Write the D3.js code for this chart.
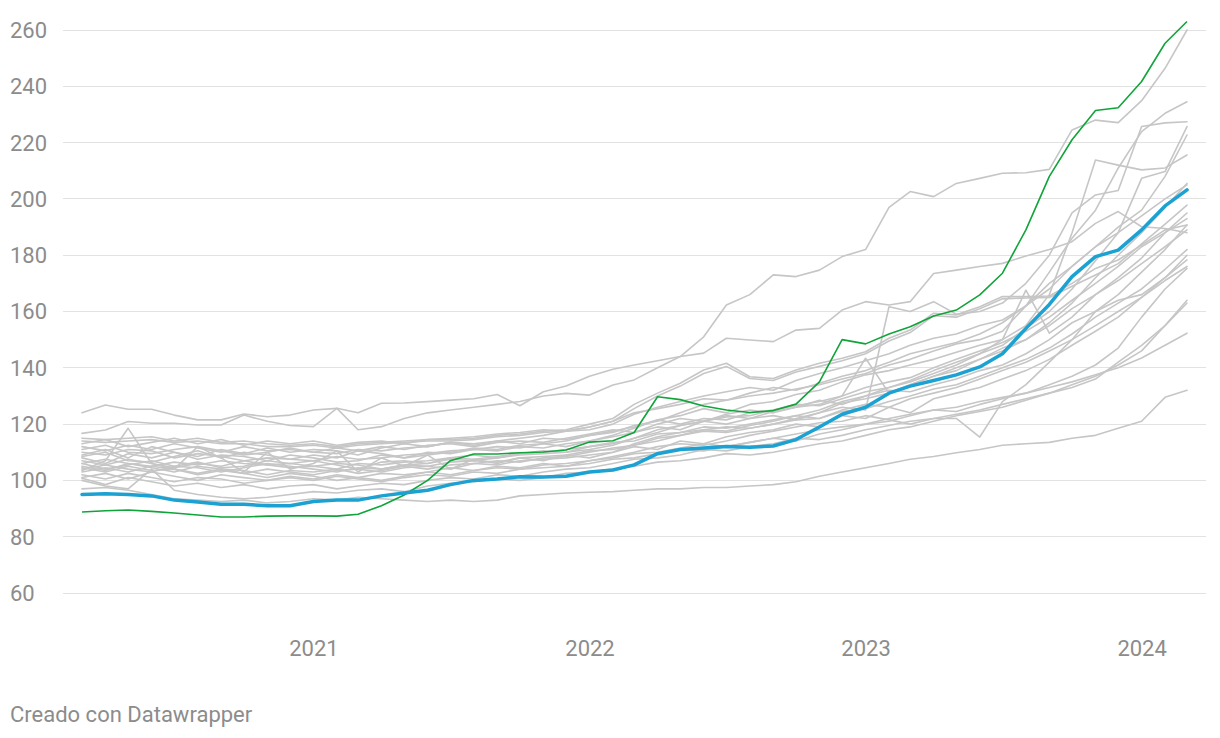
<!DOCTYPE html>
<html>
<head>
<meta charset="utf-8">
<script src="https://cdn.jsdelivr.net/npm/d3@7"></script>
<style>
  html, body { margin: 0; padding: 0; background: #ffffff; }
  svg { display: block; }
  text { font-family: Roboto, "Noto Sans", sans-serif; }
</style>
</head>
<body>
<svg id="chart" width="1220" height="738"></svg>
<script>
// ---- categories: monthly observations, Mar 2020 .. Mar 2024 ----
const startMonth = new Date(2020, 2, 1);
const endMonth = new Date(2024, 3, 1);
const months = d3.timeMonth.range(startMonth, endMonth); // 49 months

// ---- tick labels ----
const yTicks = [60, 80, 100, 120, 140, 160, 180, 200, 220, 240, 260];
const xTickLabels = ["2021", "2022", "2023", "2024"];
const footerText = "Creado con Datawrapper";

// ---- highlighted series ----
const blueSeries = [
  95, 95.3, 95, 94.5, 93, 92.3, 91.5, 91.5, 91, 91,
  92.5, 93, 93, 94.5, 95.5, 96.5, 98.5, 100, 100.5, 101.3,
  101.2, 101.5, 103, 103.7, 105.5, 109.5, 111, 111.5, 112, 111.8,
  112.2, 114.5, 119, 123.5, 126, 131, 133.5, 135.5, 137.5, 140.3,
  145, 154, 162.5, 172.4, 179.5, 181.8, 189, 197.5, 203.2
];
const greenSeries = [
  88.8, 89.2, 89.5, 89, 88.4, 87.7, 87, 87, 87.3, 87.4,
  87.4, 87.3, 88, 91, 94.8, 100, 107, 109.4, 109.4, 109.8,
  110.1, 110.8, 113.6, 114.1, 117, 129.7, 128.7, 126.4, 125, 124.1,
  124.8, 127.1, 135, 150, 148.5, 152, 154.6, 158.4, 160.5, 165.9,
  173.6, 189, 208, 221, 231.4, 232.4, 241.7, 255.3, 263
];

// ---- background (grey) series ----
const grey01 = [
  124, 126.8, 125.3, 125.3, 123.2, 121.5, 121.5, 123.6, 122.6, 123.2,
  125, 125.6, 124, 127.4, 127.5, 128, 128.5, 129, 130.5, 126.5,
  131.5, 133.5, 137, 139.5, 141, 142.5, 144, 151, 162.3, 166,
  173, 172.4, 174.7, 179.5, 182, 197, 202.6, 200.8, 205.5, 207.3,
  209.1, 209.3, 210.5, 224.5, 228, 227.1, 234.9, 246.4, 260
];
const grey02 = [
  116.7, 117.9, 120.9, 120.3, 120.3, 119.7, 119.7, 123.2, 121, 119.5,
  119.1, 125.6, 118, 119.1, 122, 124, 125, 126, 127, 128,
  130, 130.9, 130.3, 133.9, 135.7, 140, 144, 145.2, 150.5, 149.9,
  149.3, 153.4, 154, 160.5, 163.5, 162.3, 163.5, 173.5, 174.7, 176,
  177.1, 179.7, 182, 184.8, 191.3, 195.5, 190.1, 189.5, 188
];
const grey03 = [
  115, 114.5, 115, 115.5, 114, 115, 113.5, 114, 113, 112.5,
  113, 112, 113, 113.5, 114, 114.5, 114.5, 115, 116, 116.5,
  117.5, 118, 120, 122, 127, 131, 134.5, 139.2, 141.6, 136.8,
  136.2, 139.2, 141.6, 143.4, 145.7, 150.5, 153.4, 159.4, 158.8, 161.7,
  165.3, 165.3, 165.5, 170, 175.3, 178.3, 183.6, 189, 190.7
];
const grey04 = [
  114, 113.5, 114, 114.5, 113.5, 114, 113, 113, 112, 112,
  112.5, 111.5, 112.5, 113, 113.5, 114, 114, 114.5, 115.5, 116,
  117, 117.5, 119, 121, 125.5, 130, 133.5, 138, 140.5, 136.2,
  135.5, 138.5, 140.5, 142.5, 145, 149.5, 152.5, 158.5, 158, 161,
  164.5, 164.8, 165, 169, 173, 177, 184, 191, 197.8
];
const grey05 = [
  110, 109, 111, 110.5, 108, 109.5, 108.5, 107, 108, 107.5,
  107, 108.5, 107.5, 108, 109, 109.5, 110.5, 111, 112, 111.5,
  113, 114, 116, 117, 119.5, 121, 124, 127, 128.5, 130,
  131, 132.5, 134, 136, 138, 141, 143, 146, 148.5, 150,
  153, 162, 174, 186, 196, 210.9, 223.9, 230.4, 234.5
];
const grey06 = [
  106, 107.5, 106, 105, 106.5, 105.5, 107, 106, 105.5, 106,
  105, 106, 105.5, 104, 105.5, 106, 107.5, 107, 108, 109,
  109.5, 110, 111, 112.5, 115, 117, 119.5, 121, 120, 122,
  123, 121.5, 124, 126, 125, 161.7, 160, 163.5, 159, 160,
  163, 170, 180, 195, 201.4, 203, 225.7, 227, 227.4
];
const grey07 = [
  108, 106, 109.5, 108, 110, 107.5, 109, 108.5, 107, 109,
  108, 106.5, 107, 109, 108, 110, 109.5, 111, 110.5, 112,
  111.5, 113, 114, 116, 118.5, 121.5, 123, 125.5, 124, 127,
  128, 130.5, 132, 135, 137.5, 139, 141, 143, 145.5, 148,
  150, 155, 166, 188, 213.8, 212, 210.3, 211, 215.6
];
const grey08 = [
  103, 104.5, 103, 105, 104, 102.5, 104, 103.5, 102, 103.5,
  103, 104, 102.5, 103.5, 105, 104, 105.5, 106, 105.5, 107,
  107.5, 108, 109, 110, 113, 115.5, 117, 118, 117.5, 119.5,
  121, 123, 125, 128, 130, 133, 135.5, 139, 142, 145,
  148, 154, 160, 168, 178, 188, 207.3, 209.7, 225.7
];
const grey09 = [
  112, 110.5, 112.5, 111, 113, 111.5, 110, 112, 110.5, 111,
  110, 109.5, 111, 110.5, 111.5, 112, 113.5, 113, 114, 115,
  116, 117.5, 118, 120, 123.5, 126, 128, 130, 131.5, 133,
  132, 135.5, 138, 140, 142.5, 145, 148, 150.5, 152, 155,
  157, 162, 170, 176, 183, 190, 196, 208, 222.7
];
const grey10 = [
  105, 103.5, 106, 104.5, 103, 105, 104, 102.5, 104, 103,
  102, 103.5, 104, 103, 104.5, 105, 104, 106, 107, 106.5,
  108, 108.5, 110, 111.5, 112.5, 115, 116, 118, 119, 118.5,
  120, 122, 124, 127.5, 129, 131, 134, 137, 139, 143,
  147, 150, 156, 163, 172, 180, 188, 197, 205.5
];
const grey11 = [
  109, 111, 108, 112, 110, 108.5, 111, 109.5, 111.5, 110,
  111, 110.5, 109, 111.5, 113, 112, 113.5, 112.5, 114, 113,
  115, 114.5, 116, 117.5, 119, 121.5, 120, 122, 121.5, 124,
  125, 127, 126.5, 129, 131.5, 133, 135, 138, 141, 145,
  150, 167.6, 152.3, 158, 166, 172, 179, 188, 195
];
const grey12 = [
  101, 102.5, 100.5, 103, 101.5, 100, 102, 101, 100, 101.5,
  100.5, 102, 101, 100, 101.5, 103, 102, 103.5, 104.5, 104,
  105.5, 106, 107, 108.5, 110, 112, 113, 112.5, 114, 116,
  117.5, 119, 120.5, 121, 123, 121.5, 120, 122, 122, 115.4,
  128, 134, 142, 150, 160, 166, 174, 182, 190.7
];
const grey13 = [
  107, 105.5, 107.5, 106, 104.5, 106, 105, 107, 105.5, 104.5,
  105, 104, 106, 105.5, 106.5, 107, 108, 107.5, 108.5, 109.5,
  110, 111, 112, 113, 115, 118, 119.5, 121, 122.5, 123,
  125, 126.5, 128, 130, 143.4, 131, 134, 137, 140, 143,
  146, 150, 155, 161, 166, 171, 177, 183, 189
];
const grey14 = [
  104, 105.5, 104, 103, 105, 104.5, 103, 104.5, 106, 105,
  104, 103, 104.5, 104, 105.5, 105, 106.5, 107, 106.5, 108,
  108.5, 109, 110.5, 111, 112.5, 114, 116, 117.5, 117, 118.5,
  120, 121.5, 122, 124.5, 125.5, 128, 130, 132.5, 134, 137,
  140, 143, 147, 152, 158, 163, 168, 175, 182
];
const grey15 = [
  111, 112.5, 110, 109.5, 111, 112, 110.5, 109, 110, 111.5,
  110, 111.5, 110.5, 112, 111, 112.5, 113, 112, 113.5, 114,
  113.5, 115, 116.5, 118, 117, 120, 122, 121, 123.5, 125,
  124, 126, 128.5, 127, 130, 132, 131.5, 134, 136, 139,
  141, 145, 150, 156, 160, 164, 166, 172, 180
];
const grey16 = [
  106, 104, 105.5, 107, 105, 106.5, 104.5, 105, 107, 106,
  107, 105.5, 104, 106.5, 107, 106, 108, 109, 108, 109.5,
  110.5, 110, 112, 113.5, 114, 116.5, 117, 119, 118.5, 120,
  121.5, 123, 122, 125, 127, 126, 129, 131, 133, 136,
  139, 142, 146, 150, 155, 160, 165, 172, 178.3
];
const grey17 = [
  102, 100.5, 102.5, 101, 99.5, 101, 100.5, 99, 100, 101,
  100, 101.5, 100.5, 99.5, 101, 102, 101.5, 103, 102.5, 104,
  104.5, 105, 106, 107.5, 108, 109.5, 111, 110.5, 112, 113.5,
  115, 114, 116.5, 118, 120, 121, 123, 125, 124.5, 127,
  129, 131, 134, 137, 141, 147, 158, 168, 175.3
];
const grey18 = [
  100.8, 98.5, 101, 99.5, 98, 99, 97.5, 98.5, 97, 98,
  98.5, 97, 98, 99, 98.5, 100, 101, 100.5, 102, 101.5,
  103, 104, 104.5, 106, 107.5, 108, 109, 111, 110.5, 112,
  113, 115, 114.5, 116, 118, 119.5, 121, 122, 123.5, 125,
  127, 129, 131, 134, 137, 141, 146, 155, 164
];
const grey19 = [
  100, 98, 97, 104, 96.5, 95, 94, 93.5, 94, 95,
  96, 95.5, 96.5, 97, 96, 98, 99, 99.5, 100.5, 100,
  101, 102.5, 103, 104, 105, 106.5, 107, 108, 109.5, 109,
  110, 111.5, 113, 114, 116, 118, 119, 121, 123, 124.5,
  126, 128.5, 131, 133, 136, 142, 148, 155, 163
];
const grey20 = [
  104.5, 103, 105, 103.5, 104, 102, 103.5, 102.5, 101, 102.5,
  101.5, 100, 101, 102.5, 102, 103, 104.5, 103.5, 105, 104.5,
  106, 105, 107, 108, 109.5, 110, 111.5, 113, 112, 113.5,
  115, 116.5, 118, 119, 120, 122, 123.5, 125, 126, 128,
  129.5, 131, 133, 135, 137.5, 140, 143.5, 148, 152.3
];
const grey21 = [
  97, 97.5, 96.5, 95, 93.5, 93, 92.5, 93, 92, 92.5,
  93.5, 93, 94, 93.5, 93, 92.5, 93, 92.5, 93, 94.5,
  95, 95.5, 95.8, 96, 96.5, 97, 97, 97.5, 97.5, 98,
  98.5, 99.5, 101.5, 103, 104.5, 106, 107.5, 108.5, 109.8, 111,
  112.5, 113, 113.5, 115, 116, 118.5, 121, 129.5, 132
];
const grey22 = [
  113, 114.5, 112, 113.5, 115, 113, 114.5, 112.5, 114, 113,
  114, 112.5, 113.5, 114, 113, 114.5, 115, 115.5, 116.5, 117,
  118, 117.5, 119, 121, 124, 125.5, 127, 129, 128.5, 131,
  133, 132, 134.5, 137, 139, 142, 145, 147, 149, 152,
  156, 162, 168, 176, 183, 188, 194, 200, 205
];
const grey23 = [
  108.5, 110, 107, 106.5, 108.5, 110.5, 108, 110, 109, 107.5,
  109, 108, 110.5, 109.5, 108, 109, 110, 111.5, 111, 112.5,
  113, 112, 114, 115.5, 117, 119, 118, 121, 123, 122,
  124.5, 126, 127, 130, 133, 135, 136.5, 140, 143, 146,
  149, 153, 158, 164, 170, 176, 183, 188, 193
];
const grey24 = [
  103.5, 107, 118.5, 106, 104, 112, 108, 103, 110, 104,
  106, 110.5, 103, 108, 105, 109, 104, 107.5, 106, 108,
  107, 109, 108, 110, 112, 111, 114, 113, 115.5, 117,
  118, 120, 119, 123, 122, 126, 124, 129, 131, 133,
  136, 139, 143, 148, 153, 158, 165, 171, 176
];
const greySeries = [grey01, grey02, grey03, grey04, grey05, grey06, grey07, grey08,
  grey09, grey10, grey11, grey12, grey13, grey14, grey15, grey16, grey17, grey18,
  grey19, grey20, grey21, grey22, grey23, grey24];

// ---- drawing ----
const svg = d3.select("#chart");
const x = d3.scaleTime().domain([startMonth, months[months.length - 1]]).range([82, 1187]);
const y = d3.scaleLinear().domain([60, 260]).range([593, 30]);

const gridLeft = 63, gridRight = 1206;

// gridlines
svg.append("g").selectAll("line").data(yTicks).join("line")
  .attr("x1", gridLeft).attr("x2", gridRight)
  .attr("y1", d => y(d)).attr("y2", d => y(d))
  .attr("stroke", "#e2e2e2").attr("stroke-width", 1)
  .attr("shape-rendering", "crispEdges");

// y labels
svg.append("g").selectAll("text").data(yTicks).join("text")
  .attr("x", 10).attr("y", d => y(d)).attr("dy", "0.36em")
  .attr("fill", "#8c8c8c").attr("font-size", 22)
  .text(d => d);

// x labels via axis
const xTickDates = xTickLabels.map(s => new Date(+s, 0, 1));
const xAxis = d3.axisBottom(x).tickValues(xTickDates).tickSize(0).tickPadding(0)
  .tickFormat((d, i) => xTickLabels[i]);
const gx = svg.append("g").attr("transform", "translate(0,640)").call(xAxis);
gx.select(".domain").remove();
gx.selectAll("text").attr("fill", "#8c8c8c").attr("font-size", 22)
  .attr("font-family", "Roboto, 'Noto Sans', sans-serif");

const line = d3.line().x((d, i) => x(months[i])).y(d => y(d));

svg.append("g").selectAll("path").data(greySeries).join("path")
  .attr("d", line).attr("fill", "none")
  .attr("stroke", "#c6c6c6").attr("stroke-width", 1.6)
  .attr("stroke-linejoin", "round").attr("stroke-linecap", "round");

svg.append("path").datum(greenSeries).attr("d", line).attr("fill", "none")
  .attr("stroke", "#10a43a").attr("stroke-width", 1.6)
  .attr("stroke-linejoin", "round");

svg.append("path").datum(blueSeries).attr("d", line).attr("fill", "none")
  .attr("stroke", "#1ba1d2").attr("stroke-width", 3.5)
  .attr("stroke-linejoin", "round").attr("stroke-linecap", "round");

// footer
svg.append("text").attr("x", 10).attr("y", 722)
  .attr("fill", "#8c8c8c").attr("font-size", 22).text(footerText);
</script>
</body>
</html>
